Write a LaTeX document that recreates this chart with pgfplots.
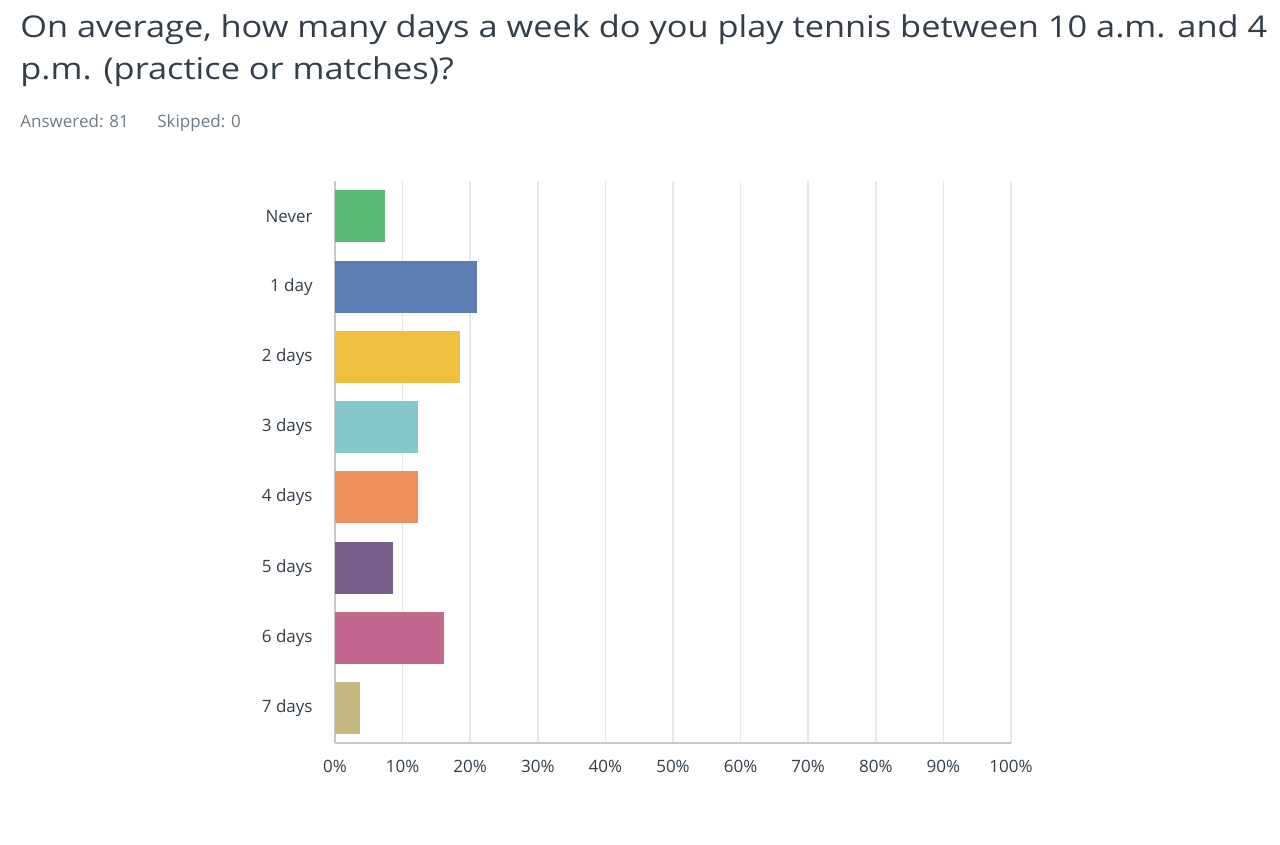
\documentclass[border=0pt]{standalone}
\usepackage{fontspec}
\setmainfont{Open Sans}
\newfontfamily\titlefont{Open Sans}[FakeStretch=1.145]
\usepackage{pgfplots}
\pgfplotsset{compat=1.18}

\definecolor{titlec}{HTML}{333E48}
\definecolor{subc}{HTML}{6F7A83}
\definecolor{gridc}{HTML}{E8E8E8}
\definecolor{axisc}{HTML}{C8C8C8}
\definecolor{cNever}{HTML}{5BBB76}
\definecolor{cOne}{HTML}{5B7DB1}
\definecolor{cTwo}{HTML}{EFBF41}
\definecolor{cThree}{HTML}{84C7CC}
\definecolor{cFour}{HTML}{EF915D}
\definecolor{cFive}{HTML}{785E8C}
\definecolor{cSix}{HTML}{C3678E}
\definecolor{cSeven}{HTML}{C5B77F}

\begin{document}
\begin{tikzpicture}[x=1pt,y=1pt]
\path[use as bounding box] (0,0) rectangle (640,422.5);

\node[anchor=base west, inner sep=0, text=titlec, font=\titlefont\fontsize{15}{18}\selectfont]
  at (10,403.5) {On average, how many days a week do you play tennis between 10 a.m. and 4};
\node[anchor=base west, inner sep=0, text=titlec, font=\titlefont\fontsize{15}{18}\selectfont]
  at (10,382.5) {p.m. (practice or matches)?};
\node[anchor=base west, inner sep=0, text=subc, font=\fontsize{8.5}{10}\selectfont]
  at (10,358.5) {Answered: 81};
\node[anchor=base west, inner sep=0, text=subc, font=\fontsize{8.5}{10}\selectfont]
  at (78.5,358.5) {Skipped: 0};

\begin{axis}[
  at={(167.5pt,50.85pt)}, anchor=south west,
  width=338pt, height=281pt, scale only axis,
  xbar, bar width=26pt, bar shift=0pt,
  xmin=0, xmax=100, ymin=-0.5, ymax=7.5,
  xtick={0,10,...,100},
  ytick={0,...,7},
  yticklabels={7 days,6 days,5 days,4 days,3 days,2 days,1 day,Never},
  xticklabel={\pgfmathprintnumber{\tick}\%},
  /pgf/number format/assume math mode=true,
  axis x line*=bottom, axis y line*=left,
  axis line style={draw=axisc, line width=0.8pt},
  xmajorgrids, grid style={draw=gridc, line width=0.8pt},
  major tick length=0pt,
  tick label style={text=titlec, font=\fontsize{8.5}{10}\selectfont},
  xticklabel style={inner sep=0pt, yshift=-8pt},
  yticklabel style={inner sep=0pt, xshift=-11pt},
  every axis plot/.append style={draw=none},
]
\addplot[fill=cSeven] coordinates {(3.70,0)};
\addplot[fill=cSix] coordinates {(16.05,1)};
\addplot[fill=cFive] coordinates {(8.64,2)};
\addplot[fill=cFour] coordinates {(12.35,3)};
\addplot[fill=cThree] coordinates {(12.35,4)};
\addplot[fill=cTwo] coordinates {(18.52,5)};
\addplot[fill=cOne] coordinates {(20.99,6)};
\addplot[fill=cNever] coordinates {(7.41,7)};
\end{axis}
\end{tikzpicture}
\end{document}
